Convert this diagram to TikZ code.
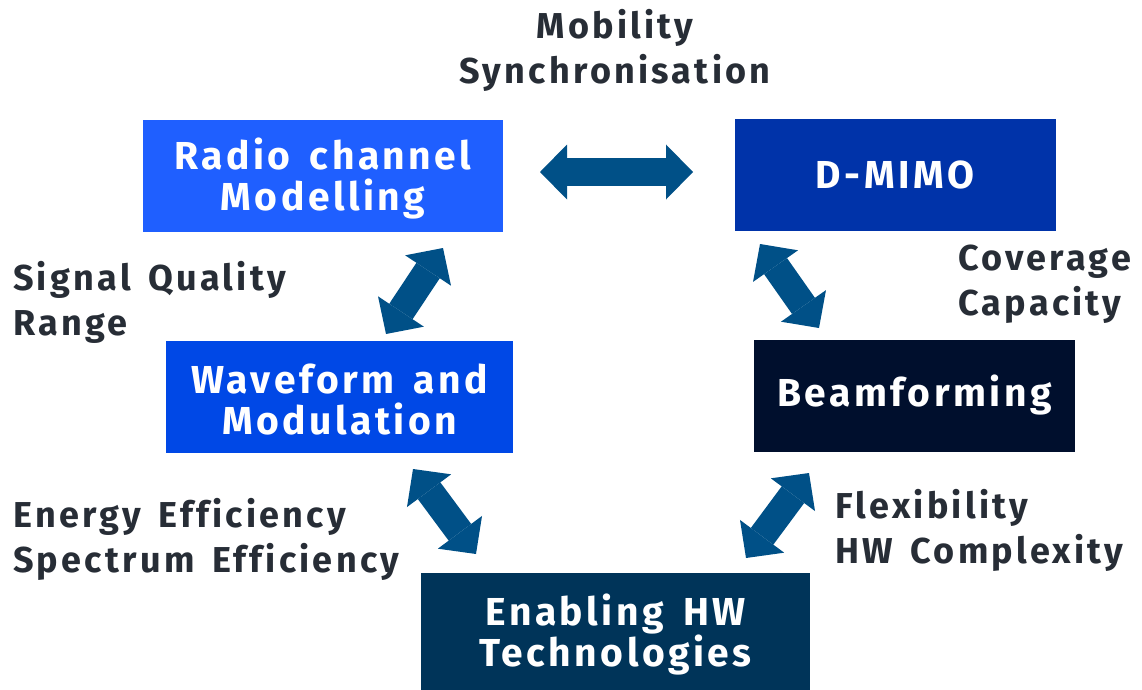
\documentclass[tikz,border=0pt]{standalone}
\usepackage{fontspec}
\setmainfont{Fira Sans}[LetterSpace=9,WordSpace=1.5,Ligatures=NoCommon]
\usetikzlibrary{arrows.meta}
\definecolor{radioblue}{RGB}{31,95,255}
\definecolor{waveblue}{RGB}{0,72,230}
\definecolor{mimoblue}{RGB}{0,51,169}
\definecolor{beamnavy}{RGB}{0,15,45}
\definecolor{hwnavy}{RGB}{0,52,89}
\definecolor{arrowblue}{RGB}{0,80,135}
\definecolor{textgray}{RGB}{39,45,54}
\tikzset{
  boxnode/.style={inner sep=0pt, text=white, align=center,
    font=\fontsize{39}{41}\selectfont\bfseries},
  labelnode/.style={inner sep=0pt, text=textgray, anchor=north west, align=left,
    font=\fontsize{36}{45}\selectfont\bfseries},
  dblarrow/.style={draw=arrowblue, line width=28pt,
    {Triangle[length=27pt,width=55pt,line width=0pt]}-{Triangle[length=27pt,width=55pt,line width=0pt]}}
}
\begin{document}
\begin{tikzpicture}[x=1pt,y=-1pt]
                    \useasboundingbox (0,0) rectangle (1142,690);%
                    
                    % Drawing box Radio channel Modelling
                    \node [boxnode, fill=radioblue, minimum width=360pt, minimum height=112pt] (radio) at (323,176) {\rule{0pt}{36pt}Radio channel\\Modelling};%
                    
                    % Drawing box D-MIMO
                    \node [boxnode, fill=mimoblue, minimum width=321pt, minimum height=111pt] (dmimo) at (895,175) {D-MIMO};%
                    
                    % Drawing box Waveform and Modulation
                    \node [boxnode, fill=waveblue, minimum width=347pt, minimum height=112pt] (wave) at (339.5,397) {\rule{0pt}{34pt}Waveform and\\Modulation};%
                    
                    % Drawing box Beamforming
                    \node [boxnode, fill=beamnavy, minimum width=321pt, minimum height=112pt] (beam) at (914.5,395.5) {Beamforming};%
                    
                    % Drawing box Enabling HW Technologies
                    \node [boxnode, fill=hwnavy, minimum width=389pt, minimum height=117pt] (hw) at (615.5,631.5) {\rule{0pt}{38pt}Enabling HW\\Technologies};%
                    
                    % Marking arrow ends
                    \coordinate (radioR) at (540,172);%
                    \coordinate (mimoL) at (693,172);%
                    \coordinate (radioB) at (443,248);%
                    \coordinate (waveT) at (386,334);%
                    \coordinate (mimoB) at (760,244);%
                    \coordinate (beamT) at (819,328);%
                    \coordinate (waveB) at (413,469);%
                    \coordinate (hwL) at (476,554);%
                    \coordinate (beamB) at (809,473);%
                    \coordinate (hwR) at (746,558);%
                    
                    % Drawing arrows
                    \draw [dblarrow] (radioR) -- (mimoL);%
                    \draw [dblarrow] (radioB) -- (waveT);%
                    \draw [dblarrow] (mimoB) -- (beamT);%
                    \draw [dblarrow] (waveB) -- (hwL);%
                    \draw [dblarrow] (beamB) -- (hwR);%
                    
                    % Marking labels
                    \node [labelnode, anchor=north, align=center] (mobility) at (615,9) {Mobility\\Synchronisation};%
                    \node [labelnode] (signal) at (13,261) {Signal Quality\\Range};%
                    \node [labelnode] (coverage) at (958,245) {Coverage\\Capacity};%
                    \node [labelnode] (energy) at (13,498) {Energy Efficiency\\Spectrum Efficiency};%
                    \node [labelnode] (flex) at (835,489) {Flexibility\\HW Complexity};%
\end{tikzpicture}
\end{document}
